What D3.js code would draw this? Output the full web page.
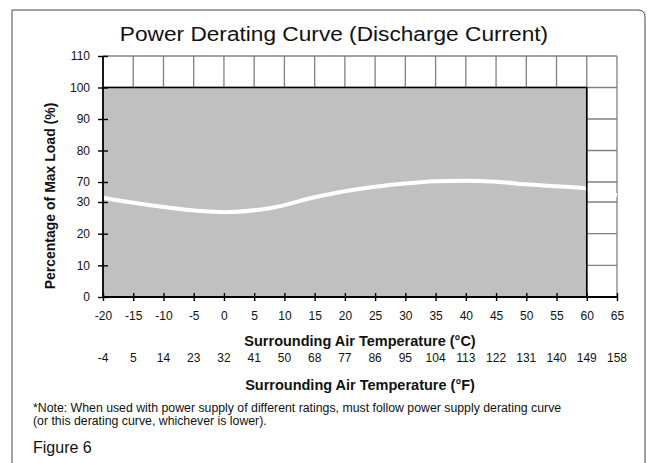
<!DOCTYPE html>
<html>
<head>
<meta charset="utf-8">
<script src="https://cdn.jsdelivr.net/npm/d3@7"></script>
<style>
  body { margin: 0; background: #fff; }
  svg { display: block; font-family: "Liberation Sans", Arial, sans-serif; }
  .wide { transform-box: fill-box; transform-origin: center; transform: scaleX(1.08); }
</style>
</head>
<body>
<svg id="chart" width="647" height="463"></svg>
<script>
// --- DATA ---
const tempC = [-20, -15, -10, -5, 0, 5, 10, 15, 20, 25, 30, 35, 40, 45, 50, 55, 60, 65];
const tempF = ["-4", "5", "14", "23", "32", "41", "50", "68", "77", "86", "95", "104", "113", "122", "131", "140", "149", "158"];
const loadTicks = [0, 10, 20, 30, 70, 80, 90, 100, 110];
// derating curve: full load across the whole operating range
const curveTemp = [-20, 60];
const curveLoad = [100, 100];
// white wavy line marking the axis break (30 -> 70)
const breakTemp = [-20, -10, 0, 8, 15, 20, 25, 30, 35, 40, 45, 50, 55, 60, 65];
const breakLoad = [38.4, 28.4, 26.8, 28.2, 39.4, 51.4, 60.4, 66.8, 70.2, 70.4, 70.1, 65.4, 61.4, 56.8, 43.4];

const svg = d3.select("#chart");

// --- SCALES ---
const x = d3.scaleLinear().domain([-20, 65]).range([103, 617]);
// broken y axis: 30..70 squeezed into a short gap
const y = d3.scaleLinear().domain([0, 30, 70, 110]).range([297, 202, 182, 56]);

// --- FRAME ---
svg.append("path")
    .attr("d", "M12,463 V10 H638 Q645,10 645,17 V463")
    .attr("fill", "none").attr("stroke", "#444").attr("stroke-width", 1);

// --- TITLE ---
svg.append("text").attr("class", "wide").attr("x", 334).attr("y", 41).attr("text-anchor", "middle")
    .style("font-size", "21px").attr("fill", "#111")
    .text("Power Derating Curve (Discharge Current)");

// --- GRID ---
const grid = svg.append("g").attr("stroke", "#808080").attr("stroke-width", 1.3);
grid.selectAll(".vg").data(tempC.slice(1)).join("line")
    .attr("x1", d => x(d)).attr("x2", d => x(d))
    .attr("y1", y(110)).attr("y2", y(0));
grid.selectAll(".hg").data(loadTicks.slice(1)).join("line")
    .attr("x1", x(-20)).attr("x2", x(65))
    .attr("y1", d => y(d)).attr("y2", d => y(d));

// --- OPERATING AREA ---
const area = d3.area().x((d, i) => x(curveTemp[i])).y0(y(0)).y1((d, i) => y(d));
svg.append("path").datum(curveLoad).attr("d", area).attr("fill", "#c0c0c0");

// axis break marker
const breakLine = d3.line().x((d, i) => x(breakTemp[i])).y(d => y(d)).curve(d3.curveMonotoneX);
svg.append("path").datum(breakLoad).attr("d", breakLine)
    .attr("fill", "none").attr("stroke", "#fff").attr("stroke-width", 4);

// black outline of the curve (top and right edge)
svg.append("path")
    .attr("d", `M${x(curveTemp[0])},${y(curveLoad[0])} H${x(curveTemp[1])} V${y(0)}`)
    .attr("fill", "none").attr("stroke", "#000").attr("stroke-width", 1.6);

// --- AXES ---
const xAxis = svg.append("g").attr("transform", `translate(0,${y(0)})`)
    .call(d3.axisBottom(x).tickValues(tempC).tickSize(4).tickPadding(10).tickFormat(d => d));
xAxis.select(".domain").attr("d", `M${x(-20)},0H${x(65)}`).attr("stroke", "#000").attr("stroke-width", 1.8);
xAxis.selectAll(".tick line").attr("y1", -4).attr("stroke", "#000").attr("stroke-width", 1.4);
xAxis.selectAll(".tick text").style("font-size", "12px").attr("fill", "#111");

const yAxis = svg.append("g").attr("transform", `translate(${x(-20)},0)`)
    .call(d3.axisLeft(y).tickValues(loadTicks).tickSize(5).tickPadding(8));
yAxis.select(".domain").attr("d", `M0,${y(110)}V${y(0)}`).attr("stroke", "#000").attr("stroke-width", 1.8);
yAxis.selectAll(".tick line").attr("x1", 5).attr("stroke", "#000").attr("stroke-width", 1.4);
yAxis.selectAll(".tick text").style("font-size", "12px").attr("fill", "#111");

// Fahrenheit row
svg.append("g").selectAll("text").data(tempF).join("text")
    .attr("x", (d, i) => x(tempC[i])).attr("y", 362)
    .attr("text-anchor", "middle").style("font-size", "12px").attr("fill", "#111")
    .text(d => d);

// --- AXIS TITLES ---
svg.append("text").attr("x", 360).attr("y", 346).attr("text-anchor", "middle")
    .style("font-size", "14.5px").style("font-weight", "bold").attr("fill", "#111")
    .text("Surrounding Air Temperature (°C)");
svg.append("text").attr("x", 360).attr("y", 390).attr("text-anchor", "middle")
    .style("font-size", "14.5px").style("font-weight", "bold").attr("fill", "#111")
    .text("Surrounding Air Temperature (°F)");
svg.append("text").attr("transform", "translate(55,196) rotate(-90)").attr("text-anchor", "middle")
    .style("font-size", "14px").style("font-weight", "bold").attr("fill", "#111")
    .text("Percentage of Max Load (%)");

// --- NOTE ---
svg.append("text").attr("x", 33).attr("y", 412).style("font-size", "12.3px").attr("fill", "#111")
    .text("*Note: When used with power supply of different ratings, must follow power supply derating curve");
svg.append("text").attr("x", 33).attr("y", 425).style("font-size", "12.3px").attr("fill", "#111")
    .text("(or this derating curve, whichever is lower).");
svg.append("text").attr("x", 33).attr("y", 453).style("font-size", "16px").attr("fill", "#111")
    .text("Figure 6");
</script>
</body>
</html>
